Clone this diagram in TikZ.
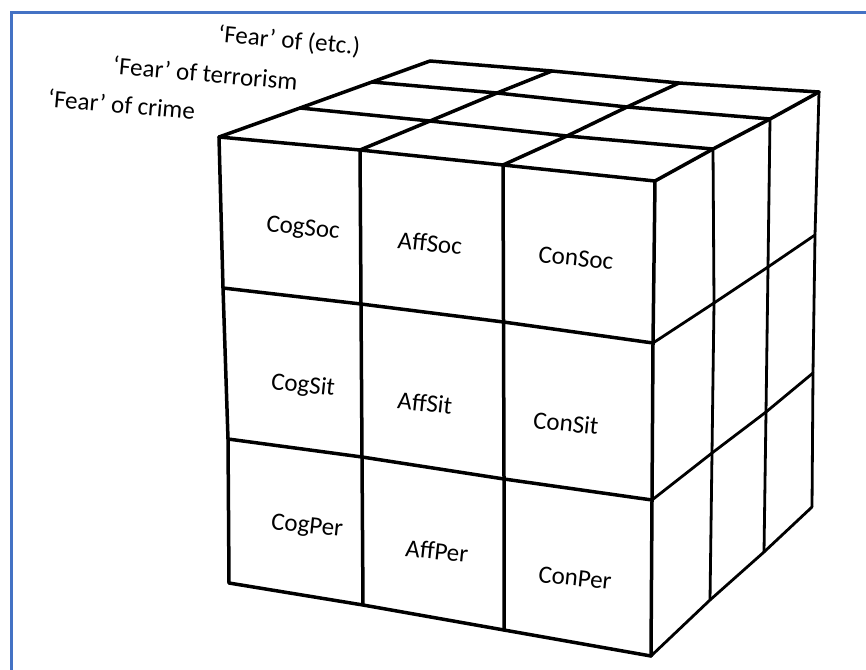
\documentclass[tikz,border=0pt]{standalone}
\usepackage{fontspec}
\setmainfont{Carlito}
\definecolor{frameblue}{HTML}{4472C4}
\begin{document}
\begin{tikzpicture}[x=1pt,y=-1pt,
  edge/.style={line width=3.5pt, line join=round, line cap=round},
  side edge/.style={line width=2.8pt, line join=round, line cap=round},
  cell/.style={font=\fontsize{25}{30}\selectfont, rotate=-6, inner sep=0pt},
  caption/.style={font=\fontsize{25}{30}\selectfont, rotate=-5, inner sep=0pt, anchor=west}]
\useasboundingbox (0,0) rectangle (866,669);
\clip (0,0) rectangle (866,669);

% outer frame (runs off the right and bottom edges)
\draw[frameblue, line width=2.6pt] (11.5,12.5) rectangle (900,700);

% front face grid points f<col><row>
\coordinate (f00) at (219,137); \coordinate (f10) at (360,150);
\coordinate (f20) at (503,165); \coordinate (f30) at (655,181);
\coordinate (f01) at (223,288); \coordinate (f11) at (361,304);
\coordinate (f21) at (503.5,322); \coordinate (f31) at (653,343);
\coordinate (f02) at (228,439); \coordinate (f12) at (362,457);
\coordinate (f22) at (504,479); \coordinate (f32) at (652,500);
\coordinate (f03) at (229,583); \coordinate (f13) at (363,605);
\coordinate (f23) at (504,630); \coordinate (f33) at (651,656);

% top face grid points t<col><depth> (depth 0 = front edge)
\coordinate (t01) at (300,108); \coordinate (t11) at (430,121);
\coordinate (t21) at (567,136); \coordinate (t31) at (713,149);
\coordinate (t02) at (372,82);  \coordinate (t12) at (497,93);
\coordinate (t22) at (627,107); \coordinate (t32) at (770,119);
\coordinate (t03) at (430,61);  \coordinate (t13) at (552,71);
\coordinate (t23) at (679,83);  \coordinate (t33) at (819,92);

% right face grid points r<depth><row> (depth 0 = front-right edge)
\coordinate (r11) at (714,303); \coordinate (r12) at (712,453); \coordinate (r13) at (710,600);
\coordinate (r21) at (768,267); \coordinate (r22) at (766,412); \coordinate (r23) at (764,552);
\coordinate (r31) at (815,235); \coordinate (r32) at (813,373); \coordinate (r33) at (812,507);

% front face
\draw[edge] (f00) -- (f10) -- (f20) -- (f30);
\draw[edge] (f01) -- (f11) -- (f21) -- (f31);
\draw[edge] (f02) -- (f12) -- (f22) -- (f32);
\draw[edge] (f03) -- (f13) -- (f23) -- (f33);
\draw[edge] (f00) -- (f01) -- (f02) -- (f03);
\draw[edge] (f10) -- (f11) -- (f12) -- (f13);
\draw[edge] (f20) -- (f21) -- (f22) -- (f23);
\draw[edge] (f30) -- (f31) -- (f32) -- (f33);

% top face
\draw[edge] (t01) -- (t11) -- (t21) -- (t31);
\draw[edge] (t02) -- (t12) -- (t22) -- (t32);
\draw[edge] (t03) -- (t13) -- (t23) -- (t33);
\draw[edge] (f00) -- (t01) -- (t02) -- (t03);
\draw[edge] (f10) -- (t11) -- (t12) -- (t13);
\draw[edge] (f20) -- (t21) -- (t22) -- (t23);
\draw[edge] (f30) -- (t31) -- (t32) -- (t33);

% right face
\draw[side edge] (t31) -- (r11) -- (r12) -- (r13);
\draw[side edge] (t32) -- (r21) -- (r22) -- (r23);
\draw[side edge] (t33) -- (r31) -- (r32) -- (r33);
\draw[side edge] (f31) -- (r11) -- (r21) -- (r31);
\draw[side edge] (f32) -- (r12) -- (r22) -- (r32);
\draw[side edge] (f33) -- (r13) -- (r23) -- (r33);

% cell labels
\node[cell] (cogsoc) at (303,229) {CogSoc};
\node[cell] (affsoc) at (430,243) {AffSoc};
\node[cell] (consoc) at (576,258) {ConSoc};
\node[cell] (cogsit) at (303,386) {CogSit};
\node[cell] (affsit) at (425,403) {AffSit};
\node[cell] (consit) at (566,423) {ConSit};
\node[cell] (cogper) at (307,527) {CogPer};
\node[cell] (affper) at (437,551) {AffPer};
\node[cell] (conper) at (575,578) {ConPer};

% layer captions
\node[caption] (crime) at (48,98) {‘Fear’ of crime};
\node[caption] (terror) at (113,65) {‘Fear’ of terrorism};
\node[caption] (etc) at (218,35) {‘Fear’ of (etc.)};
\end{tikzpicture}
\end{document}
